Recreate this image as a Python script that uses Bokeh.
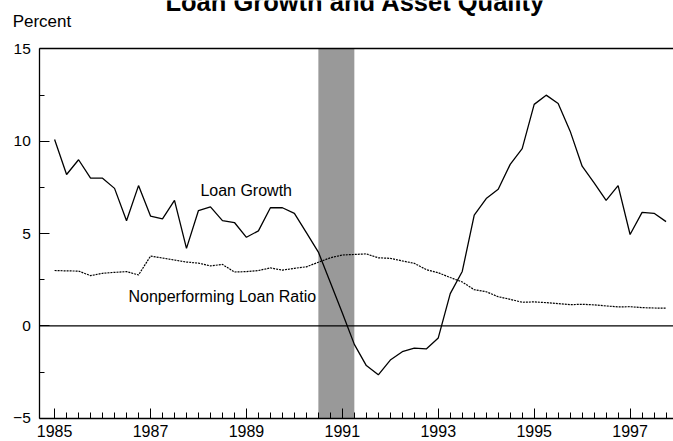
import pandas as pd
from bokeh.plotting import figure
from bokeh.models import Range1d, FixedTicker, LinearAxis, Label
from bokeh.embed import file_html
from bokeh.resources import INLINE

# ---- data (quarterly) ----
quarters = [f"{y}Q{q}" for y in range(1985, 1998) for q in range(1, 5)]

loan_growth = [
    10.1, 8.2, 9.0, 8.0,      # 1985
    8.0, 7.45, 5.7, 7.6,      # 1986
    5.95, 5.8, 6.8, 4.2,      # 1987
    6.25, 6.45, 5.7, 5.6,     # 1988
    4.8, 5.15, 6.4, 6.4,      # 1989
    6.1, 5.05, 4.0, 2.35,     # 1990
    0.7, -1.0, -2.15, -2.65,  # 1991
    -1.85, -1.4, -1.2, -1.25, # 1992
    -0.65, 1.75, 2.95, 6.0,   # 1993
    6.9, 7.4, 8.75, 9.6,      # 1994
    12.0, 12.5, 12.05, 10.55, # 1995
    8.65, 7.75, 6.8, 7.6,     # 1996
    4.95, 6.15, 6.1, 5.65,    # 1997
]

npl_ratio = [
    3.0, 2.98, 2.97, 2.72,    # 1985
    2.85, 2.9, 2.94, 2.76,    # 1986
    3.78, 3.68, 3.57, 3.46,   # 1987
    3.4, 3.25, 3.33, 2.92,    # 1988
    2.94, 3.0, 3.14, 3.02,    # 1989
    3.12, 3.2, 3.45, 3.69,    # 1990
    3.84, 3.87, 3.9, 3.69,    # 1991
    3.66, 3.52, 3.39, 3.05,   # 1992
    2.88, 2.62, 2.38, 1.96,   # 1993
    1.85, 1.58, 1.44, 1.28,   # 1994
    1.3, 1.26, 1.21, 1.15,    # 1995
    1.17, 1.14, 1.08, 1.03,   # 1996
    1.04, 0.99, 0.97, 0.96,   # 1997
]

recession_start = 1990.5
recession_end = 1991.25

y_ticks = [-5, 0, 5, 10, 15]
y_minor_ticks = [-2.5, 2.5, 7.5, 12.5]
x_label_years = [1985, 1987, 1989, 1991, 1993, 1995, 1997]

title_text = "Loan Growth and Asset Quality"
unit_text = "Percent"
series_names = ["Loan Growth", "Nonperforming Loan Ratio"]

# decimal-year position of each quarter
x = [int(q[:4]) + (int(q[-1]) - 1) / 4 for q in quarters]

# extent of the plotted box (data units)
box_left, box_right = 1984.691, 1997.905
box_bottom, box_top = y_ticks[0], y_ticks[-1]

FONT = "Liberation Sans"

# the frame covers the whole canvas; axes are placed at fixed data locations
p = figure(
    width=673, height=441,
    output_backend="svg", toolbar_location=None,
    x_range=Range1d(1983.872, 1997.905),
    y_range=Range1d(-6.262, 17.627),
    x_axis_type=None, y_axis_type=None,
    min_border_left=0, min_border_right=0,
    min_border_top=0, min_border_bottom=0,
)
p.outline_line_color = None
p.background_fill_color = "white"
p.border_fill_color = "white"
p.xgrid.visible = False
p.ygrid.visible = False

# recession shading
p.quad(left=[recession_start], right=[recession_end],
       bottom=[box_bottom], top=[box_top],
       fill_color="#999999", line_color=None)

# zero line across the box
p.segment(x0=[box_left], x1=[box_right], y0=[0], y1=[0],
          line_color="black", line_width=1.3)

# series
p.line(x, loan_growth, line_color="black", line_width=1.3)
p.line(x, npl_ratio, line_color="black", line_width=1.2, line_dash="2 1")

# axes
axis_style = dict(
    axis_line_color="black", axis_line_width=1.3,
    major_tick_line_color="black", minor_tick_line_color="black",
    major_tick_line_width=1, minor_tick_line_width=1,
    major_tick_out=0, minor_tick_out=0,
    major_label_text_font=FONT, major_label_text_color="black",
)

yax = LinearAxis(ticker=FixedTicker(ticks=y_ticks, minor_ticks=y_minor_ticks),
                 fixed_location=box_left, bounds=(box_bottom, box_top),
                 major_tick_in=10, minor_tick_in=5,
                 major_label_standoff=9, major_label_text_font_size="15.5px",
                 **axis_style)
p.add_layout(yax, "left")

xax = LinearAxis(ticker=FixedTicker(ticks=x_label_years, minor_ticks=x),
                 fixed_location=box_bottom, bounds=(box_left, box_right),
                 major_tick_in=10, minor_tick_in=6,
                 major_label_standoff=7, major_label_text_font_size="16px",
                 **axis_style)
p.add_layout(xax, "below")

top_ax = LinearAxis(ticker=FixedTicker(ticks=[]),
                    fixed_location=box_top, bounds=(box_left, box_right),
                    major_tick_in=0, minor_tick_in=0, major_label_standoff=0,
                    **axis_style)
p.add_layout(top_ax, "above")

# texts (title partly above the page top, as in the reference)
p.add_layout(Label(x=1991.27, y=17.54, text=title_text, text_align="center",
                   text_baseline="alphabetic", text_font=FONT, text_font_style="bold",
                   text_font_size="25.5px", text_color="black"))
p.add_layout(Label(x=1984.125, y=16.50, text=unit_text, text_align="left",
                   text_baseline="alphabetic", text_font=FONT,
                   text_font_size="17px", text_color="black"))
p.add_layout(Label(x=1988.04, y=7.31, text=series_names[0], text_align="left",
                   text_baseline="alphabetic", text_font=FONT,
                   text_font_size="16px", text_color="black"))
p.add_layout(Label(x=1986.54, y=1.58, text=series_names[1], text_align="left",
                   text_baseline="alphabetic", text_font=FONT,
                   text_font_size="16px", text_color="black"))

open("out.html", "w").write(file_html(p, INLINE))
